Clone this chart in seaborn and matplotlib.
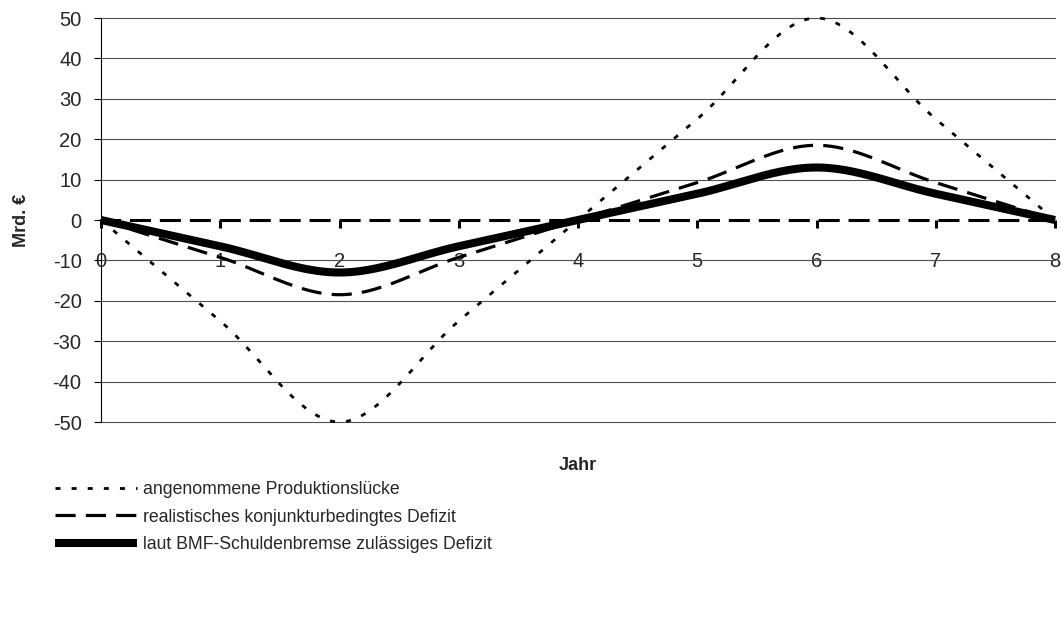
import numpy as np
import pandas as pd
import matplotlib
matplotlib.use("Agg")
import matplotlib.pyplot as plt
import seaborn as sns

# ---- data ----
jahre = [0, 1, 2, 3, 4, 5, 6, 7, 8]
produktionsluecke = [0, -25, -50, -25, 0, 25, 50, 25, 0]
konjunktur_defizit = [0, -9.25, -18.5, -9.25, 0, 9.25, 18.5, 9.25, 0]
bmf_defizit = [0, -6.5, -13, -6.5, 0, 6.5, 13, 6.5, 0]
serien_namen = ["angenommene Produktionslücke",
                "realistisches konjunkturbedingtes Defizit",
                "laut BMF-Schuldenbremse zulässiges Defizit"]
y_ticks = [-50, -40, -30, -20, -10, 0, 10, 20, 30, 40, 50]


def smooth(xs, ys, n=40):
    """Excel-like smoothed line (Catmull-Rom Bezier) for drawing."""
    xs = np.asarray(xs, float)
    ys = np.asarray(ys, float)
    P = np.column_stack([xs, ys])
    out = []
    for i in range(len(P) - 1):
        p0 = P[i - 1] if i > 0 else P[i]
        p1 = P[i]
        p2 = P[i + 1]
        p3 = P[i + 2] if i + 2 < len(P) else P[i + 1]
        c1 = p1 + (p2 - p0) / 6.0
        c2 = p2 - (p3 - p1) / 6.0
        t = np.linspace(0, 1, n, endpoint=(i == len(P) - 2))[:, None]
        b = ((1 - t) ** 3) * p1 + 3 * ((1 - t) ** 2) * t * c1 + 3 * (1 - t) * t ** 2 * c2 + t ** 3 * p2
        out.append(b)
    out = np.vstack(out)
    return out[:, 0], out[:, 1]


sns.set_style("white")
plt.rcParams["font.family"] = ["Liberation Sans", "DejaVu Sans"]
plt.rcParams["font.size"] = 13

fig = plt.figure(figsize=(10.61, 6.20), dpi=100)
ax = fig.add_axes([101 / 1061, 1 - 422 / 620, 954 / 1061, 404 / 620])

frames = []
for name, vals in zip(serien_namen, [produktionsluecke, konjunktur_defizit, bmf_defizit]):
    sx, sy = smooth(jahre, vals)
    frames.append(pd.DataFrame({"Jahr": sx, "Wert": sy, "Serie": name}))
df = pd.concat(frames, ignore_index=True)

styles = {
    serien_namen[0]: dict(lw=2.0, dashes=(1.8, 4.0)),
    serien_namen[1]: dict(lw=2.3, dashes=(6.3, 3.2)),
    serien_namen[2]: dict(lw=5.8, dashes=None),
}

# gridlines
for yv in y_ticks:
    if yv != 0:
        gl = ax.axhline(yv, color="#505050", lw=0.8, zorder=1)
        gl.set_clip_on(False)

handles = []
for name in serien_namen:
    sub = df[df["Serie"] == name]
    st = styles[name]
    sns.lineplot(data=sub, x="Jahr", y="Wert", ax=ax, color="black",
                 lw=st["lw"], sort=False, estimator=None, zorder=3)
    line = ax.lines[-1]
    line.set_clip_on(False)
    if st["dashes"] is not None:
        line.set_dashes(st["dashes"])
    line.set_solid_capstyle("butt")
    line.set_dash_capstyle("butt")
    handles.append(line)

ax.set_xlim(0, 8)
ax.set_ylim(-50, 50)
ax.set_xticks(jahre)
ax.set_yticks(y_ticks)
ax.set_yticklabels([str(v) for v in y_ticks])

for s in ["top", "right"]:
    ax.spines[s].set_visible(False)
ax.spines["left"].set_color("black")
ax.spines["left"].set_linewidth(0.8)
ax.spines["bottom"].set_position(("data", 0))
ax.spines["bottom"].set_color("black")
ax.spines["bottom"].set_linewidth(2.2)
ax.spines["bottom"].set_linestyle((0, (5.9, 3.9)))
ax.spines["bottom"].set_zorder(2)

ax.tick_params(axis="x", direction="out", length=6, width=2.2, color="black",
               pad=17, labelsize=14.5, bottom=True)
ax.tick_params(axis="y", direction="out", length=5, width=0.8, color="black",
               pad=9, labelsize=14.5, left=True)

ax.set_xlabel("Jahr", fontsize=13, fontweight="bold")
ax.xaxis.label.set_va("center")
ax.xaxis.set_label_coords(0.5, (422 - 466) / 404)
ax.set_ylabel("Mrd. €", fontsize=13, fontweight="bold")
ax.yaxis.label.set_va("center")
ax.yaxis.set_label_coords((21 - 101) / 954, 0.5)

leg = fig.legend(handles, serien_namen, loc="upper left",
                 bbox_to_anchor=(55 / 1061, 1 - 481 / 620), frameon=False,
                 borderpad=0, borderaxespad=0, handlelength=4.65,
                 handletextpad=0.34, labelspacing=0.6, fontsize=12.7)

fig.savefig("out.png", dpi=100, facecolor="white")
